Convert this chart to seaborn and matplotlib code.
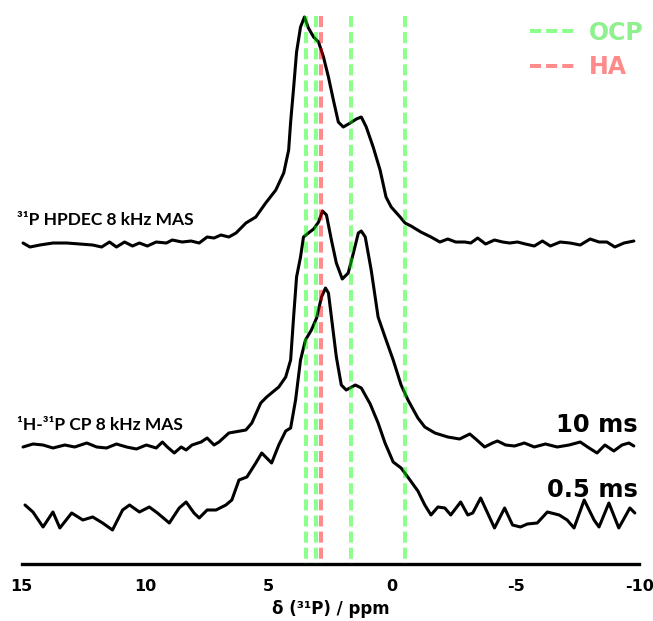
import matplotlib
matplotlib.use("Agg")
import matplotlib.pyplot as plt
from matplotlib.lines import Line2D
import seaborn as sns

# Chemical shift (ppm) and intensity (a.u., relative to each trace's baseline)
hpdec_ppm = [14.94, 14.66, 14.26, 13.73, 13.17, 12.64, 12.12, 11.76, 11.44, 11.16, 10.83, 10.51,
             10.23, 9.91, 9.55, 9.14, 8.90, 8.50, 8.14, 7.81, 7.49, 7.21, 6.93, 6.61, 6.32, 5.92,
             5.52, 5.12, 4.71, 4.39, 4.19, 4.11, 3.99, 3.87, 3.71, 3.55, 3.39, 3.18, 2.98, 2.78,
             2.58, 2.38, 2.18, 1.98, 1.70, 1.45, 1.25, 1.05, 0.77, 0.49, 0.25, 0.04, -0.32, -0.52,
             -0.76, -1.16, -1.57, -1.93, -2.25, -2.57, -2.94, -3.18, -3.46, -3.78, -4.14, -4.47,
             -4.75, -5.07, -5.39, -5.75, -6.08, -6.40, -6.80, -7.20, -7.61, -8.01, -8.37, -8.69,
             -9.01, -9.38, -9.78]
hpdec_int = [0, -4, -2, 0, 0, -1, -2, -4, 1, -4, 1, -3,
             0, -3, 1, 0, 3, 1, 2, 0, 6, 5, 8, 6, 10, 20,
             26, 40, 53, 70, 93, 121, 155, 191, 216, 226, 215, 206, 201, 186,
             166, 143, 121, 116, 120, 124, 126, 116, 96, 73, 46, 36, 26, 20,
             17, 11, 6, 1, 4, 1, 1, 0, 5, -1, 3, 1,
             0, 1, -1, -3, 2, -3, 1, 0, -2, 4, 1, 1,
             -4, 0, 2]

cp10_ppm = [14.94, 14.54, 14.13, 13.73, 13.25, 12.85, 12.36, 11.96, 11.56, 11.16, 10.75, 10.35,
            9.95, 9.55, 9.30, 9.10, 8.82, 8.54, 8.34, 8.10, 7.73, 7.49, 7.21, 7.01, 6.61, 5.92,
            5.68, 5.32, 5.08, 4.59, 4.31, 4.11, 3.99, 3.87, 3.71, 3.59, 3.39, 3.18, 2.98, 2.82,
            2.66, 2.46, 2.26, 2.02, 1.78, 1.57, 1.37, 1.25, 1.09, 0.85, 0.57, 0.29, -0.04, -0.36,
            -0.64, -1.04, -1.32, -1.73, -2.25, -2.73, -3.14, -3.38, -3.74, -4.06, -4.26, -4.59,
            -4.95, -5.35, -5.75, -6.20, -6.68, -7.16, -7.61, -7.97, -8.29, -8.61, -8.97, -9.30,
            -9.58, -9.78]
cp10_int = [-2, 1, 0, -3, 0, -2, 2, -2, -3, 1, -2, -4,
            0, -3, 3, -2, -8, -2, -5, 0, 3, 7, 0, 3, 12, 15,
            22, 42, 48, 58, 68, 85, 128, 168, 188, 208, 212, 216, 223, 234,
            230, 205, 182, 166, 172, 192, 212, 214, 208, 175, 128, 108, 85, 60,
            45, 27, 18, 12, 8, 6, 11, 6, -2, 2, 4, 0,
            -1, 2, -2, 1, -2, 0, 3, -3, -8, 0, -6, 0,
            2, -1]

cp05_ppm = [14.86, 14.54, 14.13, 13.73, 13.45, 12.97, 12.52, 12.12, 11.72, 11.32, 10.91, 10.63,
            10.23, 9.83, 9.50, 9.02, 8.62, 8.34, 8.02, 7.81, 7.49, 7.13, 6.73, 6.49, 6.20, 5.88,
            5.52, 5.28, 5.08, 4.88, 4.59, 4.31, 4.11, 3.91, 3.71, 3.51, 3.27, 3.06, 2.86, 2.70,
            2.58, 2.46, 2.26, 2.06, 1.86, 1.49, 1.25, 0.89, 0.57, 0.29, -0.04, -0.36, -0.72, -1.04,
            -1.32, -1.57, -1.85, -2.13, -2.37, -2.77, -3.06, -3.26, -3.58, -3.86, -4.14, -4.55,
            -4.87, -5.19, -5.47, -5.87, -6.28, -6.76, -7.08, -7.36, -7.77, -8.17, -8.37, -8.77,
            -9.17, -9.62, -9.82]
cp05_int = [8, 1, -14, 1, -15, 0, -7, -4, -10, -17, 3, 8,
            1, 6, 0, -10, 5, 11, 0, -5, 3, 3, 8, 13, 33, 36,
            50, 60, 55, 50, 68, 82, 85, 113, 153, 173, 183, 195, 216, 225,
            220, 196, 156, 128, 123, 128, 125, 109, 90, 70, 51, 45, 33, 22,
            8, -2, 6, 5, -2, 11, -2, 0, 15, 0, -15, 5,
            -12, -14, -11, -10, 1, -2, -7, -15, 13, -7, -14, 10,
            -15, 5, 0]

# Vertical stacking offsets of the three spectra
trace_offsets = [321, 119, 51]

# Reference resonances (ppm)
ocp_peaks = [3.5, 3.07, 1.66, -0.52]
ha_peaks = [2.9]

x_ticks = [15, 10, 5, 0, -5, -10]

sns.set_theme(style="white")
plt.rcParams["font.family"] = ["DejaVu Sans"]
plt.rcParams["text.color"] = "black"
plt.rcParams["axes.labelcolor"] = "black"
plt.rcParams["xtick.color"] = "black"

fig = plt.figure(figsize=(6.53, 6.21), dpi=100)
ax = fig.add_axes([0.033, 0.0918, 0.946, 0.8824])

for ppm, inten, off in zip([hpdec_ppm, cp10_ppm, cp05_ppm],
                           [hpdec_int, cp10_int, cp05_int], trace_offsets):
    sns.lineplot(x=ppm, y=[v + off for v in inten], ax=ax, color="black",
                 linewidth=2.2, sort=False, estimator=None, clip_on=False,
                 solid_joinstyle="round", solid_capstyle="round")

xt = ax.get_xaxis_transform()
for v in ocp_peaks:
    ax.plot([v, v], [1, 0], transform=xt, color="lime", alpha=0.45, lw=2.9,
            dashes=(2.75, 1.25), zorder=5, clip_on=False)
for v in ha_peaks:
    ax.plot([v, v], [1, 0], transform=xt, color="red", alpha=0.45, lw=2.9,
            dashes=(2.75, 1.25), zorder=5, clip_on=False)

ax.set_xlim(15, -10)
ax.set_ylim(0, 548)
ax.set_xticks(x_ticks)
ax.set_xticklabels([str(t) for t in x_ticks], fontsize=11.5, fontweight="bold")
ax.set_yticks([])
for s in ["left", "right", "top"]:
    ax.spines[s].set_visible(False)
ax.spines["bottom"].set_linewidth(2.4)
ax.spines["bottom"].set_color("black")
ax.tick_params(axis="x", direction="out", length=6, width=2, pad=5, colors="black")
ax.set_xlabel("δ (³¹P) / ppm", fontsize=12, fontweight="bold", labelpad=4)

# Sample labels, positioned in figure coordinates horizontally
lab_tr = matplotlib.transforms.blended_transform_factory(fig.transFigure, ax.transData)
lab_font = dict(family=["Lato", "DejaVu Sans"], fontweight="bold", fontsize=12.5)
ax.text(0.026, 344, "³¹P HPDEC 8 kHz MAS", ha="left", va="center", transform=lab_tr, **lab_font)
ax.text(0.026, 139, "¹H-³¹P CP 8 kHz MAS", ha="left", va="center", transform=lab_tr, **lab_font)
ax.text(0.977, 139, "10 ms", ha="right", va="center", transform=lab_tr,
        fontsize=17.5, fontweight="bold")
ax.text(0.977, 74, "0.5 ms", ha="right", va="center", transform=lab_tr,
        fontsize=17.5, fontweight="bold")

handles = [Line2D([], [], color="lime", alpha=0.45, lw=2.9, dashes=(2.75, 1.25)),
           Line2D([], [], color="red", alpha=0.45, lw=2.9, dashes=(2.75, 1.25))]
leg = ax.legend(handles, ["OCP", "HA"], loc="upper right", bbox_to_anchor=(1.0, 0.982),
                bbox_transform=fig.transFigure, frameon=False, handlelength=2.0,
                handletextpad=0.5, labelspacing=0.45, borderaxespad=0.0,
                prop=dict(weight="bold", size=17))
for t, c in zip(leg.get_texts(), ["#8EF08E", "#FF8A8A"]):
    t.set_color(c)

fig.savefig("out.png", dpi=100)
